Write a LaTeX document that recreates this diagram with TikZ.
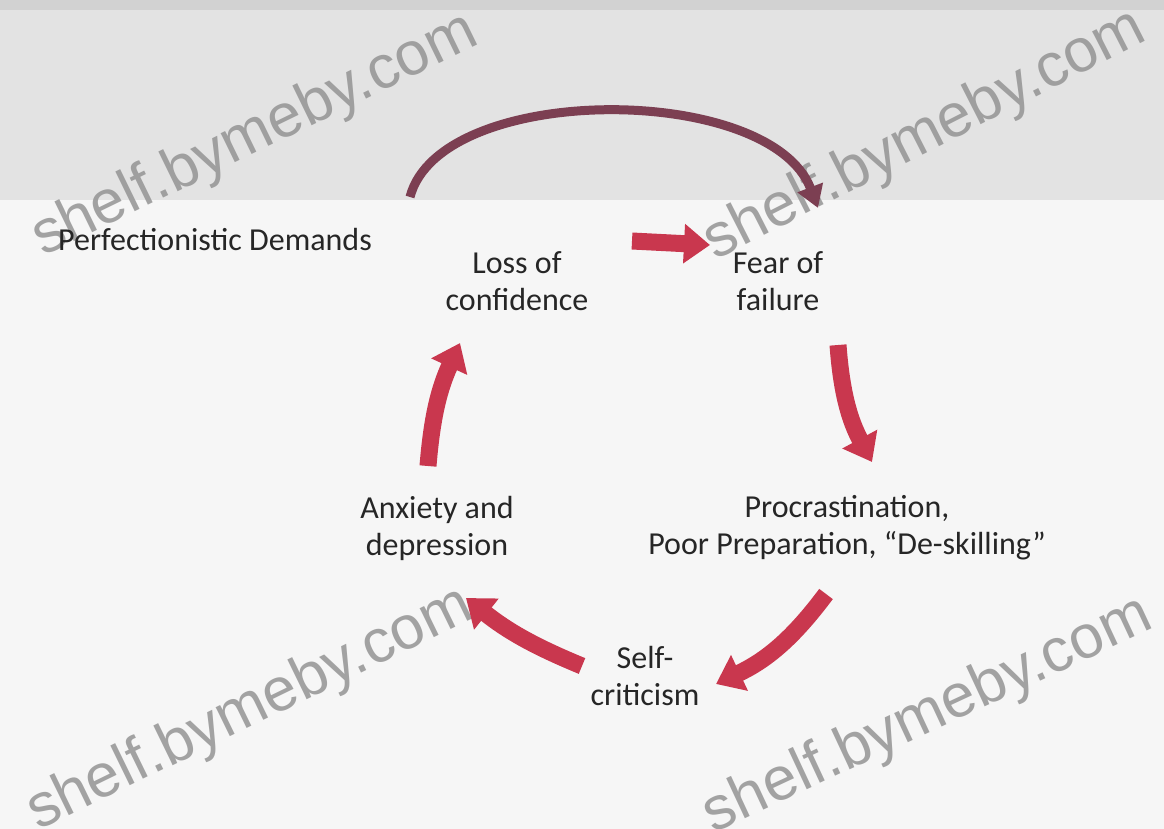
\documentclass[tikz,border=0pt]{standalone}
\usepackage{fontspec}
\setmainfont{Carlito}
\newfontfamily\wmfont{Liberation Sans}
\usetikzlibrary{arrows.meta}

\definecolor{bandGray}{HTML}{E3E3E3}
\definecolor{topGray}{HTML}{D2D2D2}
\definecolor{paperGray}{HTML}{F6F6F6}
\definecolor{arcRed}{HTML}{7C3F52}
\definecolor{cycRed}{HTML}{C9374E}
\definecolor{txtGray}{HTML}{262626}
\definecolor{wmGray}{HTML}{8E8E8E}

\tikzstyle{tS}=[inner sep = 0pt, font=\fontsize{32}{37}\selectfont, text=txtGray, align=center]
\tikzstyle{aS}=[line width=17pt, draw=cycRed, -{Triangle[length=26pt,width=38pt]}]
\tikzstyle{arcS}=[line width=9pt, draw=arcRed, -{Triangle[length=22pt,width=26pt]}]
\tikzstyle{wmS}=[inner sep = 0pt, font=\fontsize{61}{61}\selectfont\wmfont, text=wmGray, opacity=0.8]

\begin{document}
\begin{tikzpicture}[x=1pt,y=-1pt]
    \useasboundingbox (0,0) rectangle (1164,829);
    \fill[paperGray] (0,0) rectangle (1164,829);
    \fill[bandGray] (0,0) rectangle (1164,200);
    \fill[topGray] (0,0) rectangle (1164,10);

    \draw (255,136) node[wmS, rotate=26] (wm1) {shelf.bymeby.com};
    \draw (925,136) node[wmS, rotate=27] (wm2) {shelf.bymeby.com};
    \draw (250,710) node[wmS, rotate=26] (wm3) {shelf.bymeby.com};
    \draw (928,716) node[wmS, rotate=25] (wm4) {shelf.bymeby.com};

    \draw (58,240) node[tS, anchor=west] (demands) {Perfectionistic Demands};
    \draw (517,281) node[tS] (loss) {Loss of\\confidence};
    \draw (778,281) node[tS] (fear) {Fear of\\failure};
    \draw (847,528) node[tS] (procr) {Procrastination,\\Poor Preparation, ``De-skilling''};
    \draw (645,676) node[tS] (selfc) {Self-\\criticism};
    \draw (437,528) node[tS] (anx) {Anxiety and\\depression};

    \coordinate (arcA) at (410,197);
    \coordinate (arcB) at (818,208);
    \coordinate (lfA) at (632,241);
    \coordinate (lfB) at (710,245);
    \coordinate (fpA) at (838,345);
    \coordinate (fpB) at (872,462);
    \coordinate (psA) at (826,594);
    \coordinate (psB) at (716,684);
    \coordinate (saA) at (582,666);
    \coordinate (saB) at (466,598);
    \coordinate (alA) at (428,466);
    \coordinate (alB) at (460,343);

    \draw[arcS] (arcA) .. controls (440,82) and (770,82) .. (arcB);
    \path
        (lfA) edge[aS] (lfB)
        (fpA) edge[aS, bend right=12] (fpB)
        (psA) edge[aS, bend left=14] (psB)
        (saA) edge[aS, bend left=8] (saB)
        (alA) edge[aS, bend left=10] (alB)
    ;
\end{tikzpicture}
\end{document}
